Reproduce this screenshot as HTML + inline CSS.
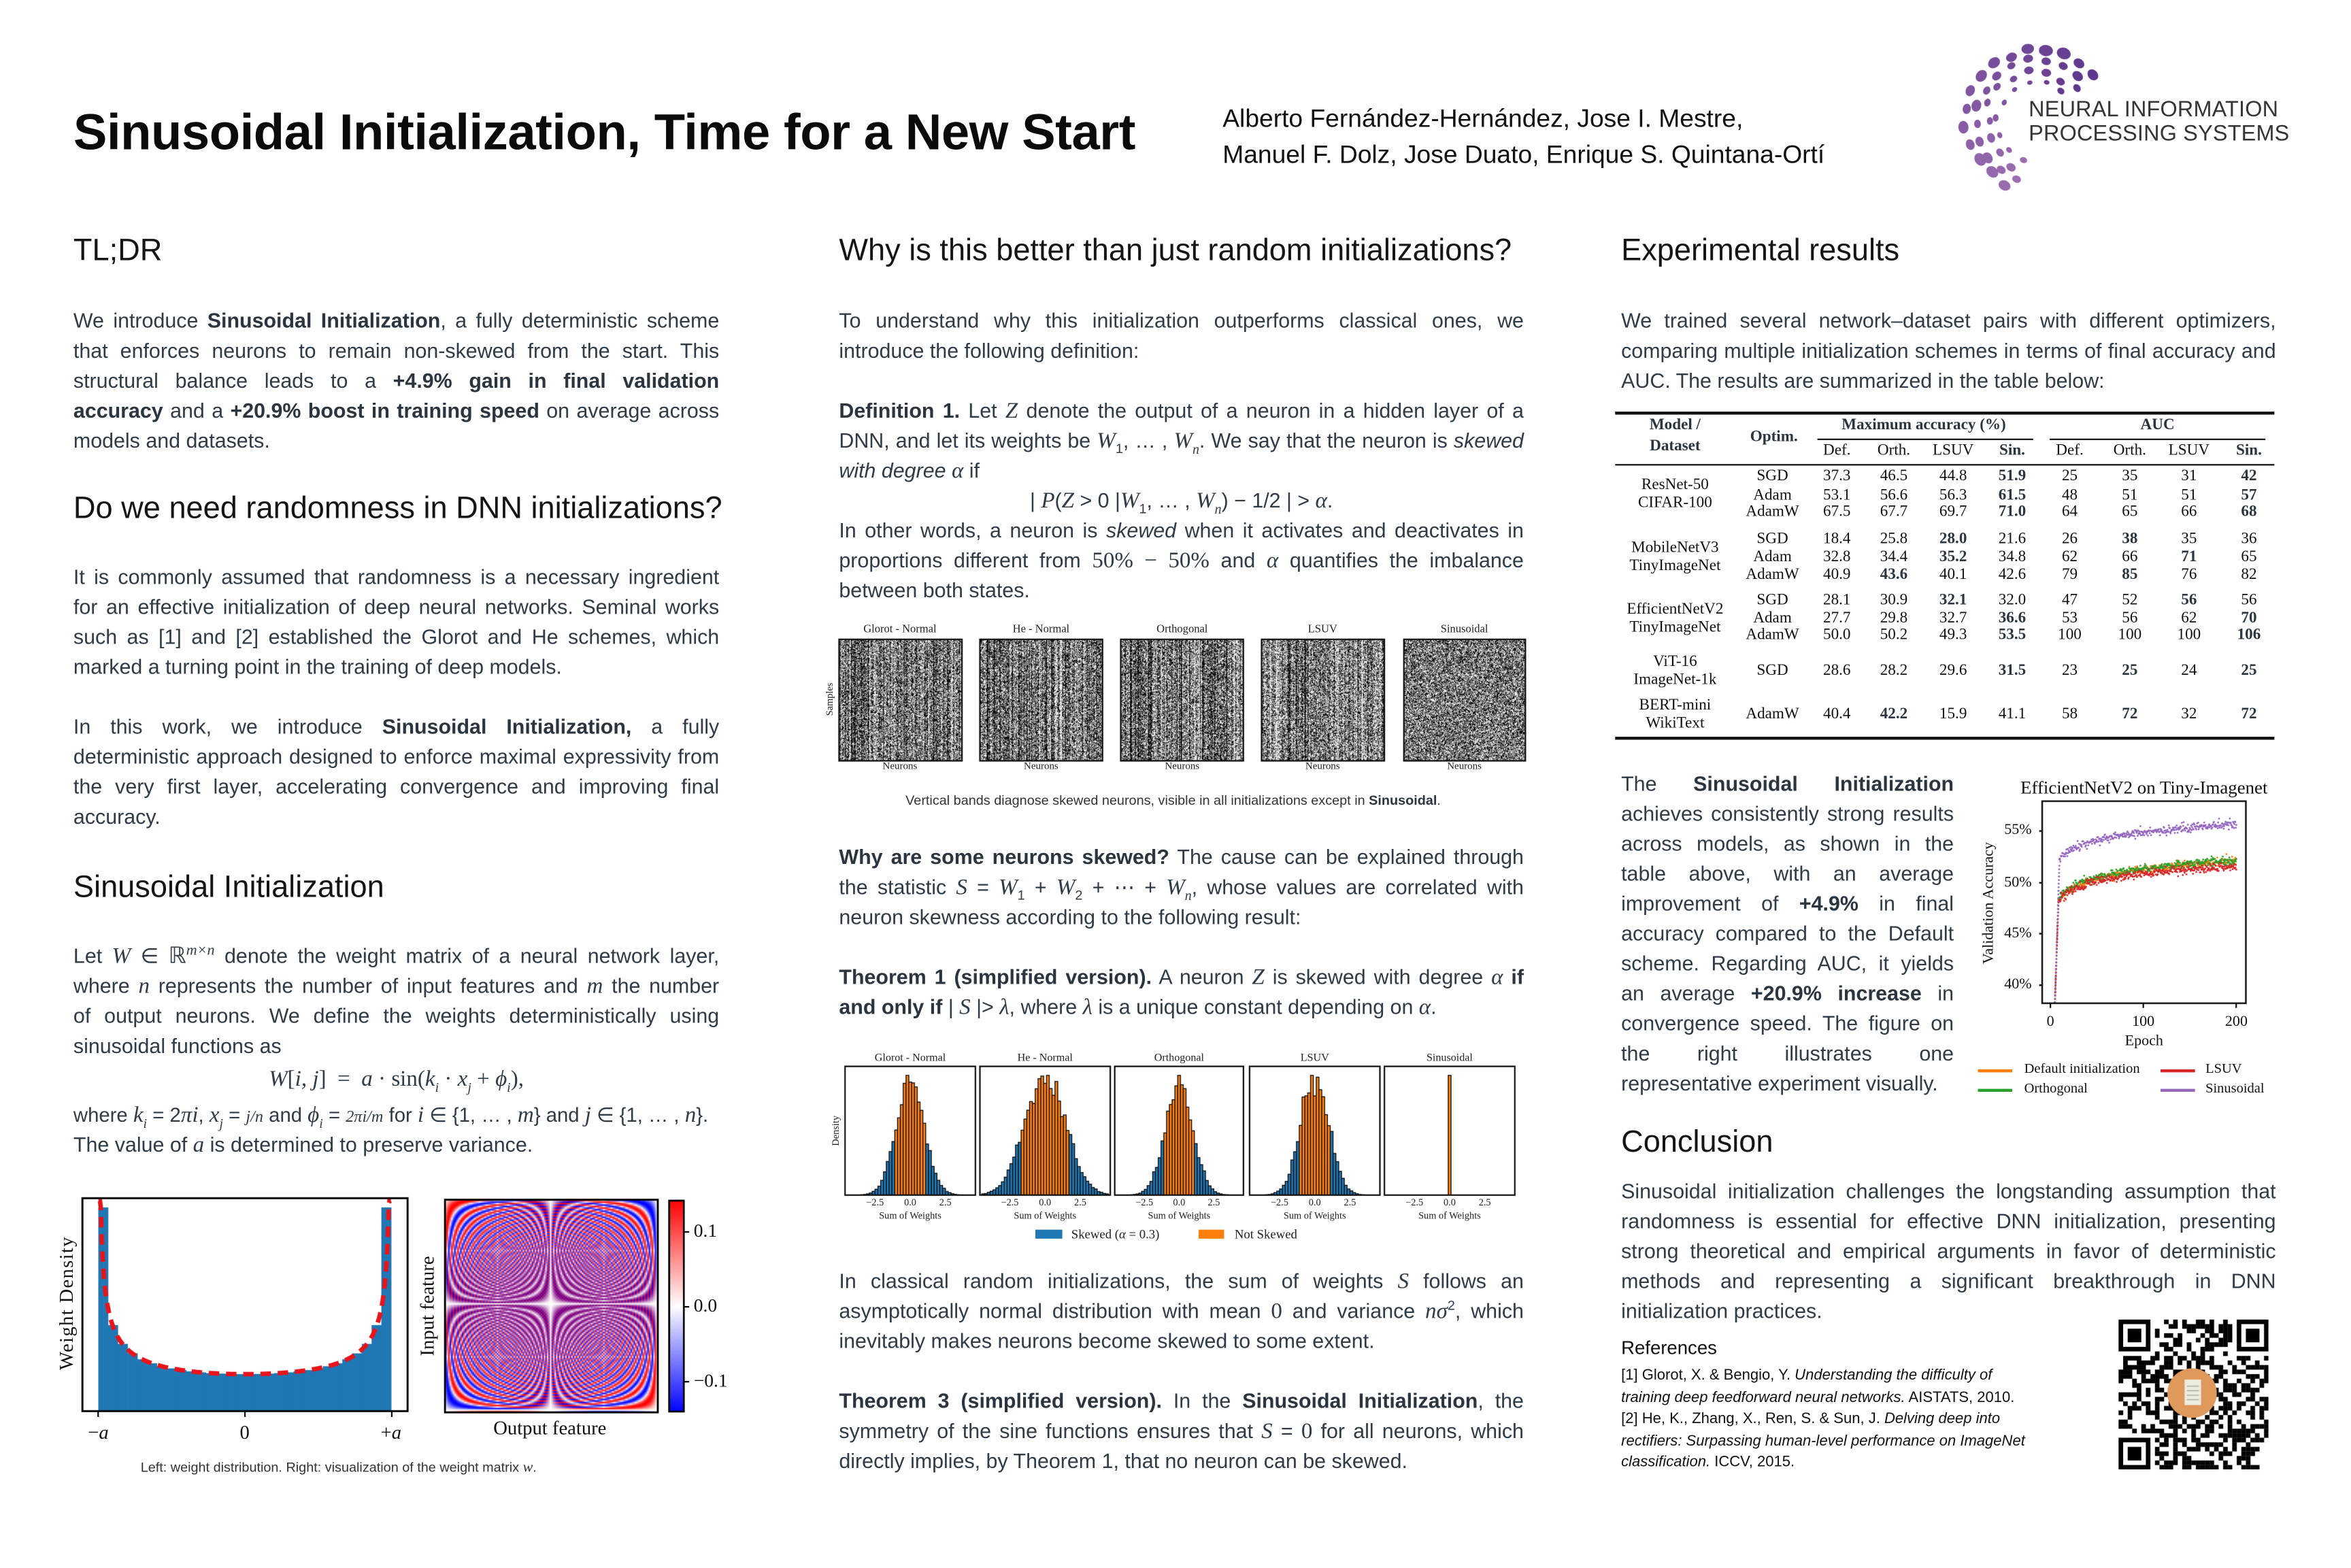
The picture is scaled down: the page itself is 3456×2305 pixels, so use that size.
<!DOCTYPE html>
<html><head><meta charset="utf-8">
<style>
html,body{margin:0;padding:0;background:#fff;}
body{width:3456px;height:2304px;overflow:hidden;position:relative;}
#P{position:absolute;left:0;top:6px;width:1570px;height:1044px;transform:scale(2.2025);transform-origin:0 0;font-family:"Liberation Sans",Arial,sans-serif;color:#2f3b46;}
.a{position:absolute;}
.h{position:absolute;font-size:20.5px;color:#151515;white-space:nowrap;line-height:24px;}
.para{position:absolute;font-size:13.8px;line-height:20px;}
.para div{height:20px;text-align:justify;text-align-last:justify;white-space:normal;overflow:visible;}
.para div.l{text-align:left;text-align-last:left;}
.para div.c{text-align:center;text-align-last:center;}
sub,sup{line-height:0;}
.m{font-family:"Liberation Serif",serif;font-style:italic;font-size:15px;line-height:0;}
.mu{font-family:"Liberation Serif",serif;font-size:15px;line-height:0;}
b{color:#2a3540;}
canvas{position:absolute;}
.t{position:absolute;white-space:nowrap;transform:translate(-50%,-50%);line-height:1;}
</style></head><body>
<div id="P">
<div class="a" style="left:49px;top:67px;font-size:33.7px;font-weight:bold;color:#0b0b0b;white-space:nowrap;letter-spacing:-0.2px">Sinusoidal Initialization, Time for a New Start</div>
<div class="a" style="left:816px;top:65px;font-size:16.9px;line-height:24px;color:#111;white-space:nowrap">Alberto Fernández-Hernández, Jose I. Mestre,<br>Manuel F. Dolz, Jose Duato, Enrique S. Quintana-Ortí</div>
<div class="a" style="left:1354px;top:63px;font-size:14.7px;line-height:16px;color:#333539;white-space:nowrap;letter-spacing:0.1px">NEURAL INFORMATION<br>PROCESSING SYSTEMS</div>

<!-- Column 1 -->
<div class="h" style="left:49px;top:153px">TL;DR</div>
<div class="para" style="left:49px;top:202px;width:431px">
<div>We introduce <b>Sinusoidal Initialization</b>, a fully deterministic scheme</div>
<div>that enforces neurons to remain non-skewed from the start. This</div>
<div>structural balance leads to a <b>+4.9% gain in final validation</b></div>
<div><b>accuracy</b> and a <b>+20.9% boost in training speed</b> on average across</div>
<div class="l">models and datasets.</div>
</div>
<div class="h" style="left:49px;top:325px">Do we need randomness in DNN initializations?</div>
<div class="para" style="left:49px;top:373px;width:431px">
<div>It is commonly assumed that randomness is a necessary ingredient</div>
<div>for an effective initialization of deep neural networks. Seminal works</div>
<div>such as [1] and [2] established the Glorot and He schemes, which</div>
<div class="l">marked a turning point in the training of deep models.</div>
<div class="l"></div>
<div>In this work, we introduce <b>Sinusoidal Initialization,</b> a fully</div>
<div>deterministic approach designed to enforce maximal expressivity from</div>
<div>the very first layer, accelerating convergence and improving final</div>
<div class="l">accuracy.</div>
</div>
<div class="h" style="left:49px;top:578px">Sinusoidal Initialization</div>
<div class="para" style="left:49px;top:626px;width:431px">
<div>Let <span class="m">W</span> ∈ <span class="mu">ℝ</span><sup class="m" style="font-size:10px">m×n</sup> denote the weight matrix of a neural network layer,</div>
<div>where <span class="m">n</span> represents the number of input features and <span class="m">m</span> the number</div>
<div>of output neurons. We define the weights deterministically using</div>
<div class="l">sinusoidal functions as</div>
<div class="c" style="margin-top:2px"><span class="m">W</span><span class="mu">[</span><span class="m">i, j</span><span class="mu">] &nbsp;= &nbsp;</span><span class="m">a</span><span class="mu"> · sin(</span><span class="m">k<sub style="font-size:9px">i</sub></span><span class="mu"> · </span><span class="m">x<sub style="font-size:9px">j</sub></span><span class="mu"> + </span><span class="m">ϕ<sub style="font-size:9px">i</sub></span><span class="mu">),</span></div>
<div style="margin-top:4px;text-align-last:left;white-space:nowrap;font-size:13.3px">where <span class="m">k<sub style="font-size:9px">i</sub></span> = 2<span class="m">πi</span>, <span class="m">x<sub style="font-size:9px">j</sub></span> = <span class="m" style="font-size:11px">j/n</span> and <span class="m">ϕ<sub style="font-size:9px">i</sub></span> = <span class="m" style="font-size:11px">2πi/m</span> for <span class="m">i</span> ∈ {1, … , <span class="m">m</span>} and <span class="m">j</span> ∈ {1, … , <span class="m">n</span>}.</div>
<div class="l">The value of <span class="m">a</span> is determined to preserve variance.</div>
</div>
<div class="t" style="left:226px;top:977px;font-size:9px;color:#333">Left: weight distribution. Right: visualization of the weight matrix <span class="m" style="font-size:10px">w</span>.</div>

<!-- Column 2 -->
<div class="h" style="left:560px;top:153px">Why is this better than just random initializations?</div>
<div class="para" style="left:560px;top:202px;width:457px">
<div>To understand why this initialization outperforms classical ones, we</div>
<div class="l">introduce the following definition:</div>
<div class="l"></div>
<div><b>Definition 1.</b> Let <span class="m">Z</span> denote the output of a neuron in a hidden layer of a</div>
<div>DNN, and let its weights be <span class="m">W</span><sub style="font-size:9px">1</sub>, … , <span class="m">W<sub style="font-size:9px">n</sub></span>. We say that the neuron is <i>skewed</i></div>
<div class="l"><i>with degree <span class="m">α</span></i> if</div>
<div class="c">| <span class="m">P</span>(<span class="m">Z</span> &gt; 0 |<span class="m">W</span><sub style="font-size:9px">1</sub>, … , <span class="m">W<sub style="font-size:9px">n</sub></span>) − 1/2 | &gt; <span class="m">α</span>.</div>
<div>In other words, a neuron is <i>skewed</i> when it activates and deactivates in</div>
<div>proportions different from <span class="mu">50% − 50%</span> and <span class="m">α</span> quantifies the imbalance</div>
<div class="l">between both states.</div>
</div>
<div class="t" style="left:783px;top:532px;font-size:9px;color:#333">Vertical bands diagnose skewed neurons, visible in all initializations except in <b>Sinusoidal</b>.</div>
<div class="para" style="left:560px;top:560px;width:457px">
<div><b>Why are some neurons skewed?</b> The cause can be explained through</div>
<div>the statistic <span class="m">S</span> = <span class="m">W</span><sub style="font-size:9px">1</sub> + <span class="m">W</span><sub style="font-size:9px">2</sub> + ⋯ + <span class="m">W<sub style="font-size:9px">n</sub></span>, whose values are correlated with</div>
<div class="l">neuron skewness according to the following result:</div>
<div class="l"></div>
<div><b>Theorem 1 (simplified version).</b> A neuron <span class="m">Z</span> is skewed with degree <span class="m">α</span> <b>if</b></div>
<div class="l"><b>and only if</b> | <span class="m">S</span> |&gt; <span class="m">λ</span>, where <span class="m">λ</span> is a unique constant depending on <span class="m">α</span>.</div>
</div>
<div class="para" style="left:560px;top:843px;width:457px">
<div>In classical random initializations, the sum of weights <span class="m">S</span> follows an</div>
<div>asymptotically normal distribution with mean <span class="mu">0</span> and variance <span class="m">nσ</span><sup style="font-size:9px">2</sup>, which</div>
<div class="l">inevitably makes neurons become skewed to some extent.</div>
<div class="l"></div>
<div><b>Theorem 3 (simplified version).</b> In the <b>Sinusoidal Initialization</b>, the</div>
<div>symmetry of the sine functions ensures that <span class="m">S</span> = <span class="mu">0</span> for all neurons, which</div>
<div class="l">directly implies, by Theorem 1, that no neuron can be skewed.</div>
</div>

<!-- Column 3 -->
<div class="h" style="left:1082px;top:153px">Experimental results</div>
<div class="para" style="left:1082px;top:202px;width:437px">
<div>We trained several network–dataset pairs with different optimizers,</div>
<div>comparing multiple initialization schemes in terms of final accuracy and</div>
<div class="l">AUC. The results are summarized in the table below:</div>
</div>
<div class="para" style="left:1082px;top:511px;width:222px">
<div>The <b>Sinusoidal Initialization</b></div>
<div>achieves consistently strong results</div>
<div>across models, as shown in the</div>
<div>table above, with an average</div>
<div>improvement of <b>+4.9%</b> in final</div>
<div>accuracy compared to the Default</div>
<div>scheme. Regarding AUC, it yields</div>
<div>an average <b>+20.9% increase</b> in</div>
<div>convergence speed. The figure on</div>
<div>the right illustrates one</div>
<div class="l" style="white-space:nowrap">representative experiment visually.</div>
</div>
<div class="h" style="left:1082px;top:748px">Conclusion</div>
<div class="para" style="left:1082px;top:783px;width:437px">
<div>Sinusoidal initialization challenges the longstanding assumption that</div>
<div>randomness is essential for effective DNN initialization, presenting</div>
<div>strong theoretical and empirical arguments in favor of deterministic</div>
<div>methods and representing a significant breakthrough in DNN</div>
<div class="l">initialization practices.</div>
</div>
<div class="a" style="left:1082px;top:890px;font-size:12.5px;color:#111">References</div>
<div class="a" style="left:1082px;top:909px;font-size:10px;line-height:14.6px;color:#111;white-space:nowrap">[1] Glorot, X. &amp; Bengio, Y. <i>Understanding the difficulty of</i><br><i>training deep feedforward neural networks.</i> AISTATS, 2010.<br>[2] He, K., Zhang, X., Ren, S. &amp; Sun, J. <i>Delving deep into</i><br><i>rectifiers: Surpassing human-level performance on ImageNet</i><br><i>classification.</i> ICCV, 2015.</div>
</div>
<script>
const S=2.2025, P=document.getElementById('P');
function rng(s){return function(){s|=0;s=s+0x6D2B79F5|0;let t=Math.imul(s^s>>>15,1|s);t=t+Math.imul(t^t>>>7,61|t)^t;return((t^t>>>14)>>>0)/4294967296;}}
const R=rng(12345);
function gauss(){let u=R()||1e-9,v=R();return Math.sqrt(-2*Math.log(u))*Math.cos(2*Math.PI*v);}
function mk(x,y,w,h){const c=document.createElement('canvas');c.width=Math.round(w*S*1.5);c.height=Math.round(h*S*1.5);c.style.left=x+'px';c.style.top=y+'px';c.style.width=w+'px';c.style.height=h+'px';P.appendChild(c);const g=c.getContext('2d');g.scale(S*1.5,S*1.5);return g;}
function T(x,y,s,st){const d=document.createElement('div');d.className='t';d.innerHTML=s;d.style.left=x+'px';d.style.top=y+'px';if(st)d.style.cssText+=st;P.appendChild(d);return d;}

// ---------- logo dots (C shape open to the right) ----------
(function(){const g=mk(1295,20,120,115);const cx=1360-1295,cy=78-20;
const rings=[[48,15,3.3],[40.5,13,2.8],[33.5,11,2.3],[27,9,1.8]];
rings.forEach((rg,ri)=>{const n=rg[1];for(let k=0;k<n;k++){const t=(k+0.5*(ri%2))/(n-0.5);if(t>1)continue;const th=(-40-t*210)*Math.PI/180;const r=rg[0]+gauss()*1.2;const x=cx+r*Math.cos(th),y=cy+r*Math.sin(th);const rad=rg[2]*(0.8+0.35*R());const cr=Math.round(95+t*60),cg=Math.round(55+t*55),cb=Math.round(140+t*35);g.fillStyle=`rgb(${cr},${cg},${cb})`;g.beginPath();g.ellipse(x,y,rad,rad*1.25,th,0,7);g.fill();}});})();

// ---------- col1 histogram ----------
(function(){const x0=55,y0=797,w=217,h=142;const g=mk(x0-2,y0-2,w+4,h+4);g.translate(2,2);
const L=65.6-x0,Rr=261-x0,base=h;const nb=30;const sc=77.5;
g.fillStyle='#1f77b4';for(let i=0;i<nb;i++){const a=-1+2*i/nb,b=-1+2*(i+1)/nb;const d=(Math.asin(b)-Math.asin(a))/Math.PI/(2/nb);const xa=L+(Rr-L)*i/nb,xb=L+(Rr-L)*(i+1)/nb;g.fillRect(xa,base-d*sc,xb-xa+0.2,d*sc);}
g.strokeStyle='#e8141c';g.lineWidth=3;g.setLineDash([7,4.5]);g.beginPath();for(let k=0;k<=400;k++){const u=-0.9985+1.997*k/400;const d=1/(Math.PI*Math.sqrt(1-u*u));const y=base-d*sc;const x=L+(Rr-L)*(u+1)/2;if(k==0)g.moveTo(x,Math.max(y,2));else g.lineTo(x,Math.max(y,2));}g.stroke();g.setLineDash([]);
g.strokeStyle='#000';g.lineWidth=1.3;g.strokeRect(0,0,w,h);
})();
[[65.6,'−<i>a</i>'],[163.3,'0'],[261,'+<i>a</i>']].forEach(t=>{const d=document.createElement('div');d.className='a';d.style.cssText=`left:${t[0]-0.5}px;top:939px;width:1px;height:4px;background:#000`;P.appendChild(d);T(t[0],953,t[1],'font-family:Liberation Serif,serif;font-size:13px;color:#111');});
T(43.5,867,'Weight Density','font-family:Liberation Serif,serif;font-size:13px;color:#111;transform:translate(-50%,-50%) rotate(-90deg);letter-spacing:0.6px');
// heatmap
(function(){const x0=297,y0=798,w=141.5,h=142;const N=140;const off=document.createElement('canvas');off.width=N;off.height=N;const o=off.getContext('2d');const im=o.createImageData(N,N);
for(let r=0;r<N;r++)for(let c=0;c<N;c++){const i=c+1,j=r+1;let v=Math.sin(2*Math.PI*i*j/N+2*Math.PI*i/N);let R1,G1,B1;if(v>=0){R1=255;G1=B1=Math.round(255*(1-v));}else{B1=255;R1=G1=Math.round(255*(1+v));}const p=(r*N+c)*4;im.data[p]=R1;im.data[p+1]=G1;im.data[p+2]=B1;im.data[p+3]=255;}
o.putImageData(im,0,0);const g=mk(x0-1,y0-1,w+2,h+2);g.imageSmoothingEnabled=true;g.drawImage(off,1,1,w,h);g.strokeStyle='#000';g.lineWidth=1.3;g.strokeRect(1,1,w,h);
const cb=mk(446,798,11,142);const gr=cb.createLinearGradient(0,0,0,142);gr.addColorStop(0,'#ff0000');gr.addColorStop(0.5,'#ffffff');gr.addColorStop(1,'#0000ff');cb.fillStyle=gr;cb.fillRect(0,0,11,142);cb.strokeStyle='#000';cb.lineWidth=1.3;cb.strokeRect(0.6,0.6,9.8,140.8);})();
[[819,'0.1'],[869,'0.0'],[919,'−0.1']].forEach(t=>{const d=document.createElement('div');d.className='a';d.style.cssText=`left:457px;top:${t[0]-0.5}px;width:3px;height:1.2px;background:#000`;P.appendChild(d);const e=T(0,t[0],t[1],'font-family:Liberation Serif,serif;font-size:12.5px;color:#111;transform:translate(0,-50%)');e.style.left='463px';});
T(285,869,'Input feature','font-family:Liberation Serif,serif;font-size:13px;color:#111;transform:translate(-50%,-50%) rotate(-90deg)');
T(367,950,'Output feature','font-family:Liberation Serif,serif;font-size:13px;color:#111');

// ---------- col2 noise panels ----------
const names=['Glorot - Normal','He - Normal','Orthogonal','LSUV','Sinusoidal'];
[[559.7,641.6],[654,735.7],[748,830],[842,923.5],[936.7,1018]].forEach((p,k)=>{const w=p[1]-p[0],h=81;const C=200,Rw=180;const off=document.createElement('canvas');off.width=C;off.height=Rw;const o=off.getContext('2d');const im=o.createImageData(C,Rw);const bias=[];for(let c=0;c<C;c++){let b=0.52;if(k<4){b=0.52+gauss()*(k==1?0.2:0.16);if(R()<0.06)b=R()<0.6?0.92:0.08;b=Math.max(0.03,Math.min(0.97,b));}bias.push(b);}
for(let r=0;r<Rw;r++)for(let c=0;c<C;c++){const v=R()<bias[c]?15:235;const q=(r*C+c)*4;im.data[q]=im.data[q+1]=im.data[q+2]=v;im.data[q+3]=255;}o.putImageData(im,0,0);
const g=mk(p[0]-1,423,w+2,h+2);g.imageSmoothingEnabled=true;g.drawImage(off,1,1,w,h);g.strokeStyle='#111';g.lineWidth=1;g.strokeRect(1,1,w,h);
T((p[0]+p[1])/2,417,names[k],'font-family:Liberation Serif,serif;font-size:7.5px;color:#222');T((p[0]+p[1])/2,510,'Neurons','font-family:Liberation Serif,serif;font-size:6.8px;color:#222');});
T(555,464,'Samples','font-family:Liberation Serif,serif;font-size:6.5px;color:#222;transform:translate(-50%,-50%) rotate(-90deg)');

// ---------- col2 hist panels ----------
const sig=[1.0,1.45,1.0,1.0],thr=[1.05,1.75,1.1,1.1];
[[564,651],[654,741],[744,830],[834,921],[924,1011]].forEach((p,k)=>{const w=p[1]-p[0],h=86,y0=709;const g=mk(p[0]-1,y0-1,w+2,h+2);g.translate(1,1);const xr=4.63;const X=v=>w/2+v/xr*w/2;
if(k<4){const bw=0.2;const hs=[];let mx=0;for(let b=-4.5;b<4.5-1e-9;b+=bw){const c=b+bw/2;let d=Math.exp(-c*c/(2*sig[k]*sig[k]))*(1+0.07*gauss());hs.push([b,d]);mx=Math.max(mx,d);}
hs.forEach(q=>{const hh=q[1]/mx*(h-6);const c=q[0]+0.1;g.fillStyle=Math.abs(c)>thr[k]?'#1f77b4':'#ff7f0e';const xa=X(q[0]),xb=X(q[0]+0.2);g.fillRect(xa,h-hh,xb-xa,hh);g.strokeStyle='#111';g.lineWidth=0.6;g.strokeRect(xa,h-hh,xb-xa,hh);});}
else{g.fillStyle='#ff7f0e';g.fillRect(X(-0.1),6,X(0.1)-X(-0.1),h-6);g.strokeStyle='#111';g.lineWidth=0.6;g.strokeRect(X(-0.1),6,X(0.1)-X(-0.1),h-6);}
g.strokeStyle='#111';g.lineWidth=1;g.strokeRect(0,0,w,h);
T((p[0]+p[1])/2,703,names[k],'font-family:Liberation Serif,serif;font-size:7.3px;color:#222');
[[-2.5,'−2.5'],[0,'0.0'],[2.5,'2.5']].forEach(t=>{T(p[0]+X(t[0]),801,t[1],'font-family:Liberation Serif,serif;font-size:6.5px;color:#222');});
T((p[0]+p[1])/2,809.5,'Sum of Weights','font-family:Liberation Serif,serif;font-size:6.5px;color:#222');});
T(559,752,'Density','font-family:Liberation Serif,serif;font-size:6.5px;color:#222;transform:translate(-50%,-50%) rotate(-90deg)');
(function(){const a=document.createElement('div');a.className='a';a.style.cssText='left:691px;top:818px;width:17.6px;height:6px;background:#1f77b4';P.appendChild(a);const b=document.createElement('div');b.className='a';b.style.cssText='left:799.5px;top:818px;width:17.5px;height:6px;background:#ff7f0e';P.appendChild(b);
let e=T(0,821,'Skewed (<i>α</i> = 0.3)','font-family:Liberation Serif,serif;font-size:8.5px;color:#222;transform:translate(0,-50%)');e.style.left='715px';e=T(0,821,'Not Skewed','font-family:Liberation Serif,serif;font-size:8.5px;color:#222;transform:translate(0,-50%)');e.style.left='824px';})();

// ---------- table ----------
(function(){const F='font-family:Liberation Serif,serif;font-size:10.5px;color:#111;';
function rule(x1,x2,y,t){const d=document.createElement('div');d.className='a';d.style.cssText=`left:${x1}px;top:${y-t/2}px;width:${x2-x1}px;height:${t}px;background:#111`;P.appendChild(d);}
rule(1078,1518,273,1.4);rule(1078,1518,307,0.9);rule(1078,1518,490,1.4);rule(1213,1357,290.5,0.6);rule(1368,1512,290.5,0.6);
T(1118,282,'<b>Model /</b>',F);T(1118,296,'<b>Dataset</b>',F);T(1184,290,'<b>Optim.</b>',F);T(1284,282,'<b>Maximum accuracy (%)</b>',F);T(1440,282,'<b>AUC</b>',F);
const cx=[1226,1264,1303.6,1343,1381.4,1421.5,1461,1501];
['Def.','Orth.','LSUV','<b>Sin.</b>','Def.','Orth.','LSUV','<b>Sin.</b>'].forEach((s,i)=>T(cx[i],299,s,F));
const rows=[[316.3,'SGD','37.3 46.5 44.8 *51.9 25 35 31 *42'],[328.5,'Adam','53.1 56.6 56.3 *61.5 48 51 51 *57'],[340.4,'AdamW','67.5 67.7 69.7 *71.0 64 65 66 *68'],
[357.5,'SGD','18.4 25.8 *28.0 21.6 26 *38 35 36'],[369.6,'Adam','32.8 34.4 *35.2 34.8 62 66 *71 65'],[381.6,'AdamW','40.9 *43.6 40.1 42.6 79 *85 76 82'],
[398.6,'SGD','28.1 30.9 *32.1 32.0 47 52 *56 56'],[410.5,'Adam','27.7 29.8 32.7 *36.6 53 56 62 *70'],[422.2,'AdamW','50.0 50.2 49.3 *53.5 100 100 100 *106'],
[446,'SGD','28.6 28.2 29.6 *31.5 23 *25 24 *25'],[475,'AdamW','40.4 *42.2 15.9 41.1 58 *72 32 *72']];
rows.forEach(r=>{T(1183,r[0],r[1],F);r[2].split(' ').forEach((v,i)=>{T(cx[i],r[0],v[0]=='*'?'<b>'+v.slice(1)+'</b>':v,F);});});
[[322,334,'ResNet-50','CIFAR-100'],[363.5,376,'MobileNetV3','TinyImageNet'],[404.5,416.5,'EfficientNetV2','TinyImageNet'],[440,452,'ViT-16','ImageNet-1k'],[469,481,'BERT-mini','WikiText']].forEach(m=>{T(1118,m[0],m[2],F);T(1118,m[1],m[3],F);});})();

// ---------- line chart ----------
(function(){const x0=1363.2,y0=532,w=135.8,h=135.4;const g=mk(x0-2,y0-2,w+4,h+4);g.translate(2,2);
const X=e=>1368.5-x0+e*0.6205,Y=a=>655.3-y0-(a-40)*6.87;
function curve(e,kind){if(kind==3){if(e<5)return 30;if(e<10)return 38+(e-5)*2.8;return 52.3+1.2*Math.log(e/10)/Math.log(2)*0.65;}
if(e<5)return 30;if(e<9)return 38+(e-5)*2.6;let v=48.3+1.3*Math.log(e/9)/Math.log(2)*0.65;if(kind==2)v-=0.15+0.002*e;if(kind==1)v+=0.1;return v;}
const cols=['#ff7f0e','#2ca02c','#d62728','#9467bd'];
g.save();g.beginPath();g.rect(0,0,w,h);g.clip();
[0,1,2,3].forEach(k=>{g.fillStyle=cols[k];for(let e=1;e<=200;e+=0.5){let v=curve(e,k);if(e>10)v+=gauss()*0.2;if(e<=10){for(let s=0;s<4;s++){const vv=curve(e+s*0.125,k);g.beginPath();g.arc(X(e+s*0.125),Y(vv),0.65,0,7);g.fill();}}g.beginPath();g.arc(X(e),Y(v),0.65,0,7);g.fill();}});
g.restore();g.strokeStyle='#111';g.lineWidth=1.1;g.strokeRect(0,0,w,h);
[[55,552],[50,586.7],[45,620.8],[40,655.3]].forEach(t=>{g.beginPath();g.moveTo(0,t[1]-y0);g.lineTo(-2,t[1]-y0);g.stroke();});})();
const CF='font-family:Liberation Serif,serif;color:#111;';
[[552,'55%'],[586.7,'50%'],[620.8,'45%'],[655.3,'40%']].forEach(t=>{const e=T(0,t[0],t[1],CF+'font-size:10px;transform:translate(-100%,-50%)');e.style.left='1356px';});
[[1368.5,'0'],[1430.5,'100'],[1492.6,'200']].forEach(t=>{const d=document.createElement('div');d.className='a';d.style.cssText=`left:${t[0]-0.5}px;top:667px;width:1px;height:3px;background:#111`;P.appendChild(d);T(t[0],679.5,t[1],CF+'font-size:10px');});
T(1431,692.5,'Epoch',CF+'font-size:10px');
T(1328,600,'Validation Accuracy',CF+'font-size:10px;transform:translate(-50%,-50%) rotate(-90deg)');
T(1431,522.5,'EfficientNetV2 on Tiny-Imagenet',CF+'font-size:12.2px');
[[1320.4,711.8,'#ff7f0e','Default initialization',1351],[1320.4,725.3,'#2ca02c','Orthogonal',1351],[1441.6,711.8,'#d62728','LSUV',1472],[1441.6,725.3,'#9467bd','Sinusoidal',1472]].forEach(l=>{const d=document.createElement('div');d.className='a';d.style.cssText=`left:${l[0]}px;top:${l[1]-1.2}px;width:23px;height:2.4px;background:${l[2]}`;P.appendChild(d);const e=T(0,l[1],l[3],CF+'font-size:9.3px;transform:translate(0,-50%)');e.style.left=l[4]+'px';});

// ---------- QR ----------
(function(){const x0=1414,y0=878,s=100;const N=33;const g=mk(x0,y0,s,s);const c=s/N;g.fillStyle='#000';
const fin=(a,b)=>{g.fillRect(a*c,b*c,7*c,7*c);g.fillStyle='#fff';g.fillRect((a+1)*c,(b+1)*c,5*c,5*c);g.fillStyle='#000';g.fillRect((a+2)*c,(b+2)*c,3*c,3*c);};
for(let i=0;i<N;i++)for(let j=0;j<N;j++){const inF=(i<8&&j<8)||(i<8&&j>N-9)||(i>N-9&&j<8);if(inF)continue;if(R()<0.5)g.fillRect(j*c,i*c,c+0.05,c+0.05);}
fin(0,0);fin(N-7,0);fin(0,N-7);
g.fillStyle='#e0995c';g.beginPath();g.arc(49,49,16.5,0,7);g.fill();g.fillStyle='#ecebdd';g.fillRect(44,40,11,17);g.fillStyle='#b9b8a8';for(let k=0;k<4;k++)g.fillRect(45.5,44+k*3,8,0.8);})();
</script>
</body></html>
